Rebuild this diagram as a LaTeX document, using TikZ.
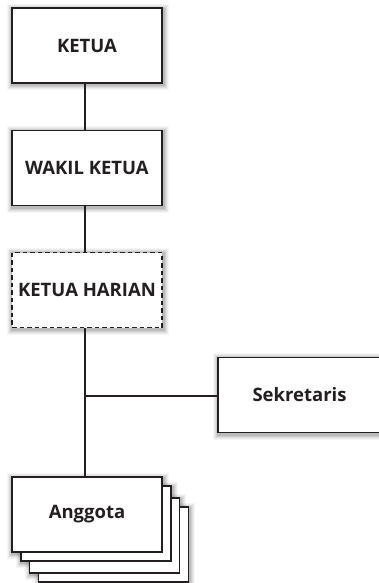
\documentclass[tikz,border=0pt]{standalone}
\usepackage{fontspec}
\setmainfont{Open Sans}
\usetikzlibrary{backgrounds}
\definecolor{ink}{HTML}{231F20}
\tikzset{
  orgbox/.style={draw=ink, line width=1.1pt, fill=white, minimum width=150pt, minimum height=75pt,
    inner sep=0pt, text=ink, font=\bfseries\fontsize{18.5}{22}\selectfont},
  dashbox/.style={orgbox, dash pattern=on 4.5pt off 3pt},
  link/.style={draw=ink, line width=1.1pt}
}
\newcommand\myglow[1]{%
  \foreach \d/\o in {5/0.035,4/0.045,3/0.055,2/0.07,1/0.09}{%
    \fill[black,opacity=\o] ([shift={(-\d pt+1pt,\d pt-1.5pt)}]#1.north west) rectangle ([shift={(\d pt+1pt,-\d pt-1.5pt)}]#1.south east);}}
\begin{document}
\begin{tikzpicture}[x=1pt,y=1pt]
\useasboundingbox (0,0) rectangle (379,-583);
\clip (0,0) rectangle (379,-583);
\node[orgbox] (ketua) at (87,-45.5) {KETUA};
\node[orgbox] (wakil) at (87,-168) {WAKIL KETUA};
\node[dashbox] (harian) at (87,-290) {KETUA HARIAN};
\node[orgbox, minimum width=163pt] (sekr) at (299.5,-395) {Sekretaris};
\node[orgbox] (ang3) at (113.5,-544.5) {};
\node[orgbox] (ang2) at (104.5,-535.5) {};
\node[orgbox] (ang1) at (96,-523.5) {};
\node[orgbox] (ang) at (87,-514.5) {Anggota};
\coordinate (branch) at (85,-396);
\begin{pgfonlayer}{background}
\myglow{ketua}
\myglow{wakil}
\myglow{harian}
\myglow{sekr}
\myglow{ang}
\myglow{ang1}
\myglow{ang2}
\myglow{ang3}
\end{pgfonlayer}
\draw[link] (ketua.south -| branch) -- (wakil.north -| branch);
\draw[link] (wakil.south -| branch) -- (harian.north -| branch);
\draw[link] (harian.south -| branch) -- (ang.north -| branch);
\draw[link] (branch) -- (sekr.west |- branch);
\end{tikzpicture}
\end{document}
